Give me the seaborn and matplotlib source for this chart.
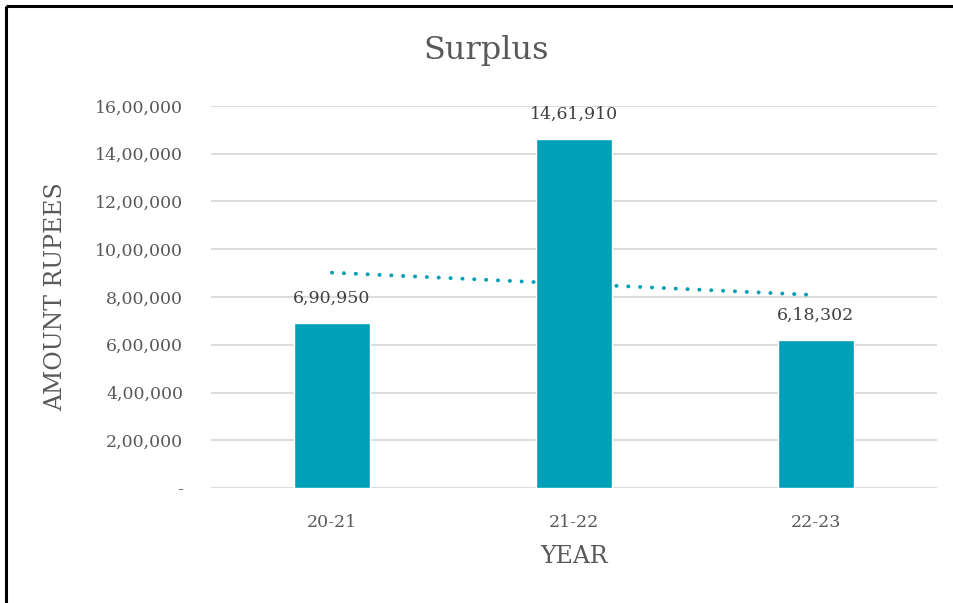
import numpy as np
import pandas as pd
import matplotlib
matplotlib.use("Agg")
import matplotlib.pyplot as plt
from matplotlib.lines import Line2D
from matplotlib.ticker import FuncFormatter
import seaborn as sns

# ---- Data ----
years = ["20-21", "21-22", "22-23"]
surplus = [690950, 1461910, 618302]
# dotted trendline as drawn in the reference (first and last year)
trend_years = [0, 2]
trend_values = [902000, 808000]
y_ticks = [0, 200000, 400000, 600000, 800000, 1000000, 1200000, 1400000, 1600000]

bar_color = "#00A0B9"
grey = "#595959"


def indian_format(v):
    v = int(round(v))
    if v == 0:
        return "-"
    s = str(v)
    last3 = s[-3:]
    rest = s[:-3]
    parts = []
    while len(rest) > 2:
        parts.insert(0, rest[-2:])
        rest = rest[:-2]
    if rest:
        parts.insert(0, rest)
    return ",".join(parts + [last3])


df = pd.DataFrame({"year": years, "surplus": surplus})

sns.set_theme(style="white")
plt.rcParams["font.family"] = ["DejaVu Serif"]

fig = plt.figure(figsize=(9.54, 6.03), dpi=100)
ax = fig.add_axes([211 / 954, 1 - 488 / 603, 726 / 954, 382 / 603])

sns.barplot(data=df, x="year", y="surplus", color=bar_color, width=0.31,
            saturation=1, ax=ax, zorder=3)

ax.plot(trend_years, trend_values, color=bar_color, lw=2.8,
        linestyle=(0, (0.05, 3.0)), dash_capstyle="round", zorder=4)

for i, v in enumerate(surplus):
    ax.annotate(indian_format(v), (i, v), xytext=(0, 18), textcoords="offset points",
                ha="center", va="center", fontsize=12.5, color="#404040")

ax.set_ylim(0, 1600000)
ax.set_xlim(-0.5, 2.5)
ax.set_yticks(y_ticks)
ax.yaxis.set_major_formatter(FuncFormatter(lambda v, p: indian_format(v)))
ax.grid(axis="y", color="#D9D9D9", lw=1.3, zorder=0)
ax.set_axisbelow(True)
for s in ax.spines.values():
    s.set_visible(False)
ax.tick_params(axis="y", length=0, pad=20, labelsize=12.5, labelcolor=grey)
ax.tick_params(axis="x", length=0, pad=19, labelsize=12.5, labelcolor=grey)

ax.set_xlabel("YEAR", fontsize=17, color=grey, labelpad=10)
ax.set_ylabel("AMOUNT RUPEES", fontsize=17, color=grey, labelpad=20)
fig.text(486 / 954, 1 - 50 / 603, "Surplus", fontsize=23, color=grey,
         ha="center", va="center")

# chart frame (top and left edges visible)
fig.add_artist(Line2D([6 / 954, 6 / 954], [0, 1 - 6 / 603], color="black", lw=2.2,
                      solid_capstyle="butt", transform=fig.transFigure))
fig.add_artist(Line2D([6 / 954, 1], [1 - 6 / 603, 1 - 6 / 603], color="black", lw=2.2,
                      solid_capstyle="butt", transform=fig.transFigure))

fig.savefig("out.png", dpi=100)
